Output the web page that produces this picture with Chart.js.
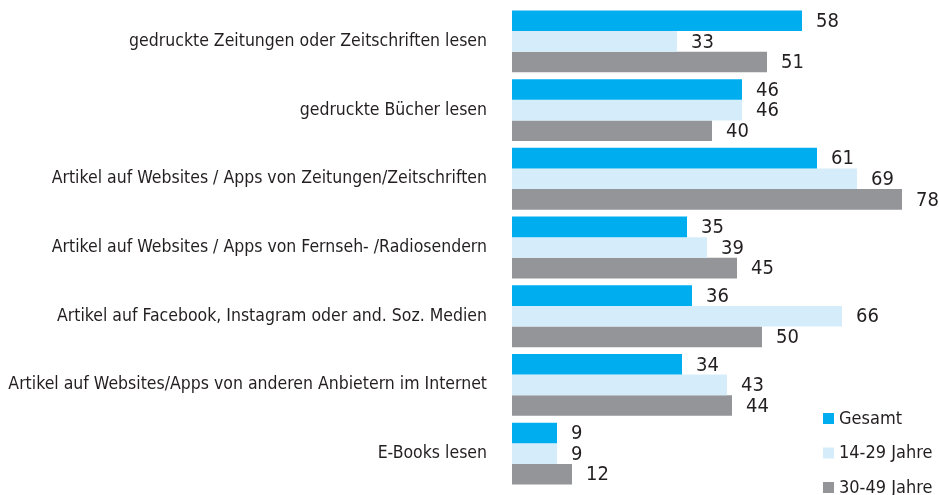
<!DOCTYPE html>
<html>
<head>
<meta charset="utf-8">
<script src="https://cdn.jsdelivr.net/npm/chart.js@4"></script>
<style>
  html, body { margin: 0; padding: 0; background: #fff; }
  .chart-box { width: 939px; height: 495px; }
</style>
</head>
<body>
<div class="chart-box"><canvas id="myChart"></canvas></div>
<script>
const categories = [
    "gedruckte Zeitungen oder Zeitschriften lesen",
    "gedruckte Bücher lesen",
    "Artikel auf Websites / Apps von Zeitungen/Zeitschriften",
    "Artikel auf Websites / Apps von Fernseh- /Radiosendern",
    "Artikel auf Facebook, Instagram oder and. Soz. Medien",
    "Artikel auf Websites/Apps von anderen Anbietern im Internet",
    "E-Books lesen"
];
const seriesNames = ["Gesamt", "14-29 Jahre", "30-49 Jahre"];
const gesamt = [58, 46, 61, 35, 36, 34, 9];
const jahre14bis29 = [33, 46, 69, 39, 66, 43, 9];
const jahre30bis49 = [51, 40, 78, 45, 50, 44, 12];

const FONT = "'DejaVu Sans Condensed', 'Liberation Sans', sans-serif";
const TEXT = "#231f20";

// value labels right of the bars
const valueLabels = {
    id: "valueLabels",
    afterDatasetsDraw(chart) {
        const ctx = chart.ctx;
        ctx.save();
        ctx.font = "20px " + FONT;
        ctx.fillStyle = TEXT;
        ctx.textBaseline = "middle";
        ctx.textAlign = "left";
        chart.data.datasets.forEach((ds, i) => {
            chart.getDatasetMeta(i).data.forEach((bar, j) => {
                ctx.fillText(ds.data[j], bar.x + 14, bar.y + 1);
            });
        });
        ctx.restore();
    }
};

// legend in the lower right corner
const cornerLegend = {
    id: "cornerLegend",
    afterDraw(chart) {
        const ctx = chart.ctx;
        ctx.save();
        ctx.font = "18px " + FONT;
        ctx.textBaseline = "middle";
        chart.data.datasets.forEach((ds, i) => {
            const y = 418 + i * 34.5;
            ctx.fillStyle = ds.backgroundColor;
            ctx.fillRect(823, y - 5, 11, 11);
            ctx.fillStyle = TEXT;
            ctx.fillText(ds.label, 839, y + 1);
        });
        ctx.restore();
    }
};

const data = {
    labels: categories,
    datasets: [
        { label: seriesNames[0], data: gesamt, backgroundColor: "#00aeef" },
        { label: seriesNames[1], data: jahre14bis29, backgroundColor: "#d5edfa" },
        { label: seriesNames[2], data: jahre30bis49, backgroundColor: "#939598" }
    ]
};

const config = {
    type: "bar",
    data,
    options: {
        indexAxis: "y",
        responsive: true,
        maintainAspectRatio: false,
        animation: false,
        layout: { padding: { top: 7, bottom: 7, right: 27, left: 0 } },
        datasets: {
            bar: { barPercentage: 1, categoryPercentage: 0.9, borderWidth: 0 }
        },
        scales: {
            x: { display: false, min: 0, max: 80 },
            y: {
                afterFit(scale) {
                    scale.width = 512;
                    scale.paddingTop = 0;
                    scale.paddingBottom = 0;
                },
                grid: { display: false, drawTicks: false },
                border: { display: false },
                ticks: {
                    padding: 25,
                    color: TEXT,
                    font: { family: FONT, size: 17.5 }
                }
            }
        },
        plugins: {
            legend: { display: false },
            tooltip: { enabled: false }
        }
    },
    plugins: [valueLabels, cornerLegend]
};

window.myChart = new Chart(document.getElementById("myChart"), config);
</script>
</body>
</html>
